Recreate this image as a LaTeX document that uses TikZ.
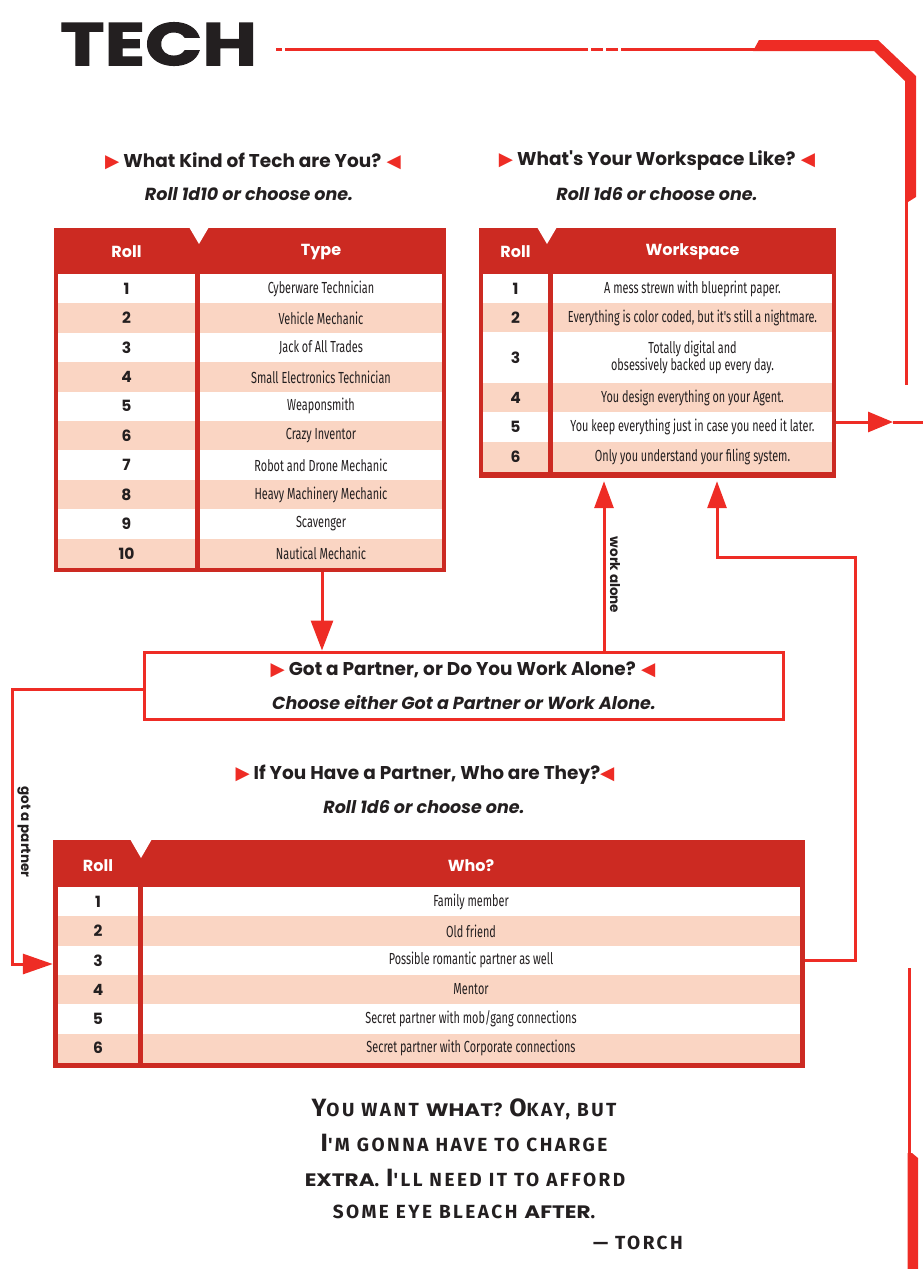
\documentclass[tikz,border=0pt]{standalone}
\usepackage{fontspec}
\usetikzlibrary{arrows.meta,calc}
\setmainfont{Poppins}
\newfontfamily\headfont{Poppins}
\newfontfamily\bodyfont[FakeStretch=0.68]{Fira Sans}
\newfontfamily\symfont{DejaVu Sans}
\newfontfamily\titlefont[FakeStretch=1.25,FakeBold=2]{Poppins}
\newfontfamily\wordfont[FakeStretch=1.2]{Poppins}
\newfontfamily\quotefont[FakeStretch=1.0,LetterSpace=13]{Fira Sans}
\definecolor{hdr}{HTML}{CC2A22}
\definecolor{ln}{HTML}{EE2C25}
\definecolor{peach}{HTML}{FAD5C3}
\definecolor{ink}{HTML}{231F20}
\newcommand\rtri{{\symfont\textcolor{ln}{▶}}}
\newcommand\ltri{{\symfont\textcolor{ln}{◀}}}
\newcommand\BC[1]{{\fontsize{25}{25}\selectfont #1}}
\newcommand\BW[1]{{\wordfont\bfseries\fontsize{18}{18}\selectfont #1}}
\tikzset{
  head/.style={font=\headfont\bfseries\fontsize{18.5}{18.5}\selectfont, text=ink, inner sep=0},
  sub/.style={font=\headfont\bfseries\itshape\fontsize{17.5}{17.5}\selectfont, text=ink, inner sep=0},
  colhead/.style={font=\headfont\bfseries\fontsize{16}{16}\selectfont, text=white, inner sep=0},
  num/.style={font=\headfont\bfseries\fontsize{15.5}{15.5}\selectfont, text=ink, inner sep=0},
  cell/.style={font=\bodyfont\fontsize{16}{17}\selectfont, text=ink, inner sep=0, align=center},
  tbl/.style={fill=hdr, inner sep=0},
  notch/.style={fill=white},
  conn/.style={draw=ln, line width=3pt},
  lbl/.style={font=\headfont\bfseries\fontsize{13.5}{13.5}\selectfont, text=ink, inner sep=0},
  quote/.style={font=\quotefont\bfseries\fontsize{19}{19}\selectfont, text=ink, inner sep=0},
  deco/.style={fill=ln}
}
\begin{document}
\begin{tikzpicture}[x=1pt,y=-1pt]
\useasboundingbox (0,0) rectangle (923,1269);
% ---------- title and frame decoration ----------
\node[font=\titlefont\bfseries\fontsize{60}{60}\selectfont, text=ink, anchor=west, inner sep=0] (title) at (60,44) {TECH};
\draw[ln, line width=3pt] (276,49.5) -- (282,49.5);
\draw[ln, line width=3pt] (285,49.5) -- (588,49.5);
\draw[ln, line width=3pt] (591,49.5) -- (603,49.5);
\draw[ln, line width=3pt] (606,49.5) -- (618,49.5);
\draw[ln, line width=3pt] (621,49.5) -- (756,49.5);
\fill[deco] (753,51) -- (759,40) -- (878,40) -- (916,76) -- (916,197) -- (908,202) -- (905,202) -- (905,81) -- (874,51) -- cycle;
\draw[ln, line width=3pt] (906.5,200) -- (906.5,385);
\draw[ln, line width=3pt] (909,968) -- (909,1155);
\fill[deco] (907.5,1153) -- (912,1153) -- (918,1158) -- (918,1269) -- (907.5,1269) -- cycle;
% ---------- headings ----------
\node[head] (h1) at (253,161) {\rtri\ What Kind of Tech are You? \ltri};
\node[sub] (s1) at (249,194) {Roll 1d10 or choose one.};
\node[head] (h2) at (657,161) {\rtri\ What's Your Workspace Like? \ltri};
\node[sub] (s2) at (657,194) {Roll 1d6 or choose one.};
% ---------- table 1 ----------
\node[tbl, minimum width=392pt, minimum height=344pt] (t1) at (250,400) {};
\fill[notch] (189,227) -- (209,227) -- (199,244) -- cycle;
\node[colhead] (t1hr) at (126.5,252) {Roll};
\node[colhead] (t1ht) at (321,252) {Type};
\foreach \n/\t [count=\i from 0] in {1/Cyberware Technician,2/Vehicle Mechanic,3/Jack of All Trades,4/Small Electronics Technician,5/Weaponsmith,6/Crazy Inventor,7/Robot and Drone Mechanic,8/Heavy Machinery Mechanic,9/Scavenger,10/Nautical Mechanic}{
  \pgfmathsetmacro\ya{274+29.4*\i}
  \pgfmathsetmacro\yb{\ya+29.4}
  \pgfmathsetmacro\ym{\ya+14.7}
  \ifodd\i \def\cc{peach}\else\def\cc{white}\fi
  \fill[\cc] (58,\ya) rectangle (195,\yb);
  \fill[\cc] (200,\ya) rectangle (442,\yb);
  \node[num] (t1n\n) at (126.5,\ym) {\n};
  \node[cell] (t1c\n) at (321,\ym) {\t};
}
% ---------- table 2 ----------
\node[tbl, minimum width=357pt, minimum height=250pt] (t2) at (657.5,353) {};
\fill[notch] (537,227) -- (557,227) -- (547,244) -- cycle;
\node[colhead] (t2hr) at (515.5,252) {Roll};
\node[colhead] (t2hw) at (692.5,252) {Workspace};
\foreach \n/\ya/\yb/\t in {1/274/303/{A mess strewn with blueprint paper.},2/303/332/{Everything is color coded, but it's still a nightmare.},3/332/383/{Totally digital and\\obsessively backed up every day.},4/383/412/{You design everything on your Agent.},5/412/442/{You keep everything just in case you need it later.},6/442/472/{Only you understand your filing system.}}{
  \pgfmathsetmacro\ym{(\ya+\yb)/2}
  \ifodd\n \def\cc{white}\else\def\cc{peach}\fi
  \fill[\cc] (483,\ya) rectangle (548,\yb);
  \fill[\cc] (553,\ya) rectangle (832,\yb);
  \node[num] (t2n\n) at (515.5,\ym) {\n};
  \node[cell] (t2c\n) at (692.5,\ym) {\t};
}
% ---------- partner box ----------
\node[draw=ln, line width=3pt, minimum width=639pt, minimum height=67pt, inner sep=0] (pbox) at (463.5,685.5) {};
\node[head] (ph) at (463,670) {\rtri\ Got a Partner, or Do You Work Alone? \ltri};
\node[sub] (ps) at (464,703) {Choose either Got a Partner or Work Alone.};
% ---------- heading 3 ----------
\node[head] (h3) at (425,775) {\rtri\ If You Have a Partner, Who are They?\ltri};
\node[sub] (s3) at (424,807) {Roll 1d6 or choose one.};
% ---------- table 3 ----------
\node[tbl, minimum width=752pt, minimum height=228pt] (t3) at (429,954) {};
\fill[notch] (130,839) -- (152,839) -- (141,858) -- cycle;
\node[colhead] (t3hr) at (98,866) {Roll};
\node[colhead] (t3hw) at (471,866) {Who?};
\foreach \n/\t [count=\i from 0] in {1/{Family member},2/{Old friend},3/{Possible romantic partner as well},4/{Mentor},5/{Secret partner with mob/gang connections},6/{Secret partner with Corporate connections}}{
  \pgfmathsetmacro\ya{887+29.3*\i}
  \pgfmathsetmacro\yb{\ya+29.3}
  \pgfmathsetmacro\ym{\ya+14.65}
  \ifodd\i \def\cc{peach}\else\def\cc{white}\fi
  \fill[\cc] (58,\ya) rectangle (138,\yb);
  \fill[\cc] (143,\ya) rectangle (800,\yb);
  \node[num] (t3n\n) at (98,\ym) {\n};
  \node[cell] (t3c\n) at (471,\ym) {\t};
}
% ---------- connectors ----------
\coordinate (c1) at (322,0);
\draw[conn,-{Triangle[length=30pt,width=22pt]}] (t1.south -| c1) -- (pbox.north -| c1);
\coordinate (c2) at (604,0);
\draw[conn,-{Triangle[length=27pt,width=19pt]}] (pbox.north -| c2) -- ($(t2.south -| c2)+(0,3)$);
\node[lbl, rotate=-90] (wa) at (615,575) {work alone};
\coordinate (c3) at (12,689);
\coordinate (c4) at (12,964);
\draw[conn,-{Triangle[length=30pt,width=20pt]}] (pbox.west |- c3) -- (c3) -- (c4) -- (t3.west |- c4);
\node[lbl, rotate=-90] (gp) at (24,832) {got a partner};
\coordinate (c5) at (855,960);
\coordinate (c6) at (855,557);
\coordinate (c7) at (717,557);
\draw[conn,-{Triangle[length=27pt,width=19pt]}] (t3.east |- c5) -- (c5) -- (c6) -- (c7) -- ($(t2.south -| c7)+(0,3)$);
\coordinate (c8) at (893,422);
\coordinate (c9) at (923,422);
\draw[conn,-{Triangle[length=25pt,width=20pt]}] (t2.east |- c8) -- (c8);
\draw[conn] (c8) -- (c9);
% ---------- quote ----------
\node[quote] (q1) at (464,1109) {\BC{Y}OU WANT \BW{WHAT}? \BC{O}KAY, BUT};
\node[quote] (q2) at (464,1143) {\BC{I}'M GONNA HAVE TO CHARGE};
\node[quote] (q3) at (465,1178) {\BW{EXTRA}. \BC{I}'LL NEED IT TO AFFORD};
\node[quote] (q4) at (464,1212) {SOME EYE BLEACH \BW{AFTER}.};
\node[quote, anchor=east] (q5) at (683,1243) {— TORCH};
\end{tikzpicture}
\end{document}
